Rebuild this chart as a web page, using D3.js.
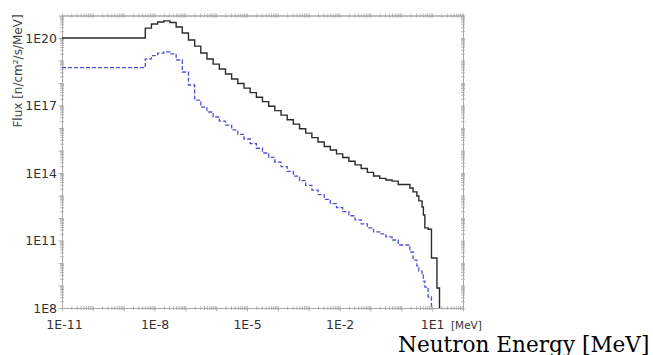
<!DOCTYPE html>
<html>
<head>
<meta charset="utf-8">
<script src="https://cdn.jsdelivr.net/npm/d3@7"></script>
<style>
  html, body { margin: 0; padding: 0; background: #fff; }
  svg { display: block; }
</style>
</head>
<body>
<svg id="chart" width="653" height="355"></svg>
<script>
// group boundaries [MeV]
const energyEdges = [
  1e-11, 5.01e-9, 7.94e-9, 1.26e-8, 2.00e-8, 3.16e-8, 5.01e-8, 7.94e-8,
  1.26e-7, 2.00e-7, 3.16e-7, 5.01e-7, 7.94e-7,
  1.26e-6, 2.00e-6, 3.16e-6, 5.01e-6, 7.94e-6,
  1.26e-5, 2.00e-5, 3.16e-5, 5.01e-5, 7.94e-5,
  1.26e-4, 2.00e-4, 3.16e-4, 5.01e-4, 7.94e-4,
  1.26e-3, 2.00e-3, 3.16e-3, 5.01e-3, 7.94e-3,
  1.26e-2, 2.00e-2, 3.16e-2, 5.01e-2, 7.94e-2,
  0.126, 0.200, 0.316, 0.501, 0.794,
  1.9, 2.4, 3.2, 3.7, 4.7, 5.2, 5.8, 7.4, 9.5, 14.3, 17.3
];

// flux per group [n/cm2/s/MeV], black solid curve
const fluxSolid = [
  1.00e20, 2.75e20, 4.17e20, 5.13e20, 5.75e20, 4.90e20, 3.09e20, 1.66e20,
  8.13e19, 4.37e19, 2.14e19, 1.17e19, 6.92e18,
  4.17e18, 2.51e18, 1.51e18, 9.55e17, 5.89e17,
  3.72e17, 2.34e17, 1.48e17, 9.33e16, 5.89e16,
  3.72e16, 2.34e16, 1.48e16, 9.33e15, 5.89e15,
  3.72e15, 2.40e15, 1.51e15, 1.05e15, 7.08e14,
  4.90e14, 3.31e14, 2.29e14, 1.58e14, 1.07e14,
  7.41e13, 5.75e13, 4.90e13, 4.37e13, 3.09e13,
  2.14e13, 1.45e13, 9.55e12, 5.75e12, 3.09e12, 1.35e12, 3.63e11, 3.16e11, 1.66e10, 7.76e8
];

// flux per group, blue dashed curve
const fluxDashed = [
  4.79e18, 1.17e19, 1.66e19, 2.14e19, 2.40e19, 1.95e19, 1.05e19, 3.09e18,
  8.13e17, 1.74e17, 8.51e16, 5.13e16, 3.09e16,
  2.04e16, 1.35e16, 8.32e15, 5.25e15, 3.24e15,
  2.04e15, 1.26e15, 7.76e14, 4.90e14, 3.02e14,
  1.91e14, 1.17e14, 7.24e13, 4.57e13, 2.82e13,
  1.74e13, 1.10e13, 6.76e12, 4.37e12, 2.88e12,
  1.91e12, 1.26e12, 8.32e11, 5.50e11, 3.63e11,
  2.40e11, 1.95e11, 1.45e11, 1.05e11, 6.31e10,
  3.09e10, 1.35e10, 7.41e9, 4.37e9, 2.95e9, 1.58e9, 8.51e8, 3.09e8, null, null
];

const xTickValues = [1e-11, 1e-8, 1e-5, 1e-2, 1e1];
const xTickLabels = ['1E-11', '1E-8', '1E-5', '1E-2', '1E1'];
const yTickValues = [1e8, 1e11, 1e14, 1e17, 1e20];
const yTickLabels = ['1E8', '1E11', '1E14', '1E17', '1E20'];

const plotLeft = 62, plotRight = 463, plotTop = 15.5, plotBottom = 308;
const svg = d3.select('#chart');

const x = d3.scaleLog().domain([1e-11, 1e2]).range([plotLeft, plotRight]);
const y = d3.scaleLog().domain([1e8, 1e21]).range([plotBottom, plotTop]);

// minor tick positions (1..9 per decade)
const xMinor = [], yMinor = [];
for (let d = -11; d < 2; d++) for (let m = 1; m < 10; m++) xMinor.push(m * Math.pow(10, d));
xMinor.push(1e2);
for (let d = 8; d < 21; d++) for (let m = 1; m < 10; m++) yMinor.push(m * Math.pow(10, d));
yMinor.push(1e21);
const xDecades = xMinor.filter((v, i) => i % 9 === 0);
const yDecades = yMinor.filter((v, i) => i % 9 === 0);

const axisColor = '#a8a8a8';
function styleAxis(g) {
  g.select('.domain').attr('stroke', axisColor).attr('stroke-width', 1);
  g.selectAll('.tick line').attr('stroke', axisColor).attr('stroke-width', 0.8);
}

// frame: ticks crossing each side
function frameAxis(axisFn, scale, vals, size, transform) {
  svg.append('g').attr('transform', transform)
    .call(axisFn(scale).tickValues(vals).tickSize(size).tickSizeOuter(0).tickFormat(''))
    .call(styleAxis);
}
frameAxis(d3.axisBottom, x, xMinor, 2, `translate(0,${plotBottom})`);
frameAxis(d3.axisTop, x, xMinor, 2, `translate(0,${plotBottom})`);
frameAxis(d3.axisBottom, x, xDecades, 3.5, `translate(0,${plotBottom})`);
frameAxis(d3.axisTop, x, xMinor, 2, `translate(0,${plotTop})`);
frameAxis(d3.axisBottom, x, xMinor, 2, `translate(0,${plotTop})`);
frameAxis(d3.axisLeft, y, yMinor, 2, `translate(${plotLeft},0)`);
frameAxis(d3.axisRight, y, yMinor, 2, `translate(${plotLeft},0)`);
frameAxis(d3.axisLeft, y, yDecades, 3.5, `translate(${plotLeft},0)`);
frameAxis(d3.axisRight, y, yMinor, 2, `translate(${plotRight},0)`);
frameAxis(d3.axisLeft, y, yMinor, 2, `translate(${plotRight},0)`);

// tick labels
const yAxis = svg.append('g').attr('transform', `translate(${plotLeft},0)`)
  .call(d3.axisLeft(y).tickValues(yTickValues).tickSize(0).tickPadding(5)
    .tickFormat((d, i) => yTickLabels[i]));
yAxis.select('.domain').remove();
yAxis.selectAll('text').attr('font-family', 'DejaVu Sans').attr('font-size', 12.5).attr('fill', '#333');

const xAxis = svg.append('g').attr('transform', `translate(0,${plotBottom})`)
  .call(d3.axisBottom(x).tickValues(xTickValues).tickSize(0).tickPadding(12)
    .tickFormat((d, i) => xTickLabels[i]));
xAxis.select('.domain').remove();
xAxis.selectAll('text').attr('font-family', 'DejaVu Sans').attr('font-size', 12.5).attr('fill', '#333')
  .attr('dx', (d, i) => i === 0 ? 2 : 0);

svg.append('text').attr('x', 451).attr('y', 328.5)
  .attr('font-family', 'DejaVu Sans').attr('font-size', 10.5).attr('fill', '#333')
  .text('[MeV]');

svg.append('text')
  .attr('transform', 'translate(22,71) rotate(-90)')
  .attr('text-anchor', 'middle')
  .attr('font-family', 'DejaVu Sans').attr('font-size', 12).attr('fill', '#444')
  .text('Flux [n/cm²/s/MeV]');

svg.append('text').attr('x', 398).attr('y', 351.5)
  .attr('font-family', 'DejaVu Serif').attr('font-size', 21.6).attr('fill', '#000')
  .text('Neutron Energy [MeV]');

// step histograms
svg.append('clipPath').attr('id', 'plot-clip')
  .append('rect').attr('x', plotLeft).attr('y', plotTop)
  .attr('width', plotRight - plotLeft).attr('height', plotBottom - plotTop);

function stepPoints(values) {
  const pts = [];
  let last = -1;
  values.forEach((v, i) => {
    if (v == null) return;
    pts.push([energyEdges[i], v], [energyEdges[i + 1], v]);
    last = i;
  });
  pts.push([energyEdges[last + 1], 1e7]);
  return pts;
}

const line = d3.line().x(d => x(d[0])).y(d => y(d[1]));

svg.append('path')
  .attr('clip-path', 'url(#plot-clip)')
  .attr('d', line(stepPoints(fluxDashed)))
  .attr('fill', 'none')
  .attr('stroke', '#5050d0')
  .attr('stroke-width', 1.3)
  .attr('stroke-dasharray', '4,2');

svg.append('path')
  .attr('clip-path', 'url(#plot-clip)')
  .attr('d', line(stepPoints(fluxSolid)))
  .attr('fill', 'none')
  .attr('stroke', '#2b2b2b')
  .attr('stroke-width', 1.4);
</script>
</body>
</html>
